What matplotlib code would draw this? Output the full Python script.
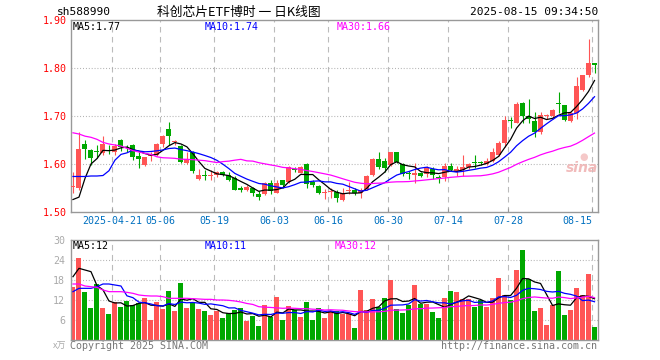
import matplotlib
matplotlib.use("Agg")
import matplotlib.pyplot as plt
import numpy as np
import pandas as pd

# ---------------- data ----------------
opens = [1.553, 1.551, 1.642, 1.629, 1.627, 1.622, 1.630, 1.626, 1.651, 1.636,
         1.640, 1.617, 1.598, 1.617, 1.619, 1.641, 1.673, 1.645, 1.6375, 1.603,
         1.626, 1.569, 1.578, 1.574, 1.577, 1.584, 1.578, 1.571, 1.550, 1.546,
         1.551, 1.538, 1.537, 1.560, 1.540, 1.567, 1.563, 1.590, 1.582, 1.601,
         1.563, 1.554, 1.539, 1.541, 1.542, 1.525, 1.544, 1.546, 1.539, 1.547,
         1.577, 1.610, 1.607, 1.598, 1.626, 1.601, 1.580, 1.578, 1.582, 1.580,
         1.590, 1.573, 1.572, 1.596, 1.586, 1.588, 1.593, 1.603, 1.603, 1.600,
         1.607, 1.619, 1.643, 1.691, 1.686, 1.728, 1.700, 1.689, 1.667, 1.700,
         1.700, 1.727, 1.723, 1.690, 1.706, 1.754, 1.785, 1.810]
highs = [1.584, 1.667, 1.650, 1.631, 1.640, 1.658, 1.640, 1.641, 1.653, 1.640,
         1.642, 1.624, 1.615, 1.624, 1.643, 1.660, 1.687, 1.651, 1.640, 1.624,
         1.628, 1.589, 1.587, 1.587, 1.585, 1.585, 1.584, 1.574, 1.554, 1.556,
         1.553, 1.543, 1.562, 1.567, 1.566, 1.567, 1.595, 1.594, 1.596, 1.602,
         1.567, 1.556, 1.547, 1.549, 1.546, 1.551, 1.563, 1.551, 1.551, 1.577,
         1.612, 1.626, 1.612, 1.626, 1.626, 1.602, 1.585, 1.603, 1.583, 1.595,
         1.593, 1.577, 1.602, 1.603, 1.596, 1.619, 1.603, 1.619, 1.606, 1.612,
         1.633, 1.647, 1.700, 1.697, 1.730, 1.730, 1.735, 1.709, 1.709, 1.704,
         1.714, 1.751, 1.723, 1.709, 1.782, 1.7854, 1.860, 1.810]
lows = [1.540, 1.546, 1.610, 1.598, 1.612, 1.619, 1.620, 1.619, 1.628, 1.625,
        1.608, 1.591, 1.596, 1.607, 1.617, 1.636, 1.640, 1.640, 1.603, 1.601,
        1.582, 1.567, 1.566, 1.566, 1.572, 1.575, 1.565, 1.545, 1.542, 1.544,
        1.534, 1.525, 1.536, 1.538, 1.539, 1.550, 1.560, 1.583, 1.581, 1.551,
        1.553, 1.537, 1.528, 1.530, 1.521, 1.523, 1.537, 1.536, 1.529, 1.546,
        1.575, 1.590, 1.584, 1.596, 1.602, 1.574, 1.568, 1.561, 1.573, 1.573,
        1.568, 1.561, 1.565, 1.586, 1.574, 1.574, 1.590, 1.591, 1.598, 1.598,
        1.605, 1.617, 1.635, 1.676, 1.685, 1.685, 1.685, 1.656, 1.663, 1.693,
        1.693, 1.706, 1.690, 1.688, 1.693, 1.753, 1.782, 1.790]
closes = [1.555, 1.631, 1.631, 1.613, 1.626, 1.641, 1.628, 1.6375, 1.636, 1.634,
          1.615, 1.610, 1.614, 1.619, 1.641, 1.658, 1.658, 1.647, 1.605, 1.611,
          1.586, 1.577, 1.575, 1.577, 1.583, 1.577, 1.567, 1.546, 1.545, 1.553,
          1.539, 1.532, 1.560, 1.543, 1.560, 1.556, 1.594, 1.588, 1.594, 1.558,
          1.556, 1.539, 1.540, 1.542, 1.529, 1.540, 1.546, 1.539, 1.546, 1.575,
          1.610, 1.593, 1.591, 1.624, 1.605, 1.580, 1.579, 1.582, 1.576, 1.593,
          1.578, 1.571, 1.596, 1.588, 1.589, 1.594, 1.601, 1.602, 1.602, 1.607,
          1.625, 1.643, 1.692, 1.689, 1.725, 1.700, 1.693, 1.667, 1.702, 1.701,
          1.7125, 1.725, 1.692, 1.706, 1.7625, 1.785, 1.810, 1.806]
volumes = [16.0, 24.7, 14.5, 9.7, 16.7, 9.7, 7.9, 11.5, 10.0, 11.8,
           10.5, 11.2, 12.6, 6.1, 11.5, 9.3, 14.7, 8.8, 17.2, 9.7,
           11.5, 9.3, 8.8, 7.5, 8.7, 6.6, 8.1, 9.0, 9.6, 5.7,
           7.2, 4.2, 10.5, 6.9, 13.0, 6.0, 10.2, 9.0, 6.9, 11.4,
           6.0, 9.6, 6.6, 8.7, 8.7, 7.7, 7.7, 3.6, 15.0, 9.0,
           12.3, 9.8, 12.6, 18.0, 9.2, 8.1, 10.5, 16.5, 10.8, 10.8,
           8.4, 6.6, 12.6, 14.7, 14.4, 12.2, 12.2, 10.0, 12.0, 10.0,
           12.5, 18.7, 13.5, 12.0, 21.0, 27.0, 18.3, 8.8, 9.7, 4.5,
           10.5, 20.7, 7.5, 9.0, 15.7, 13.5, 19.8, 3.9]

# moving-average values at the start of the window (need data before the window)
ma5_head = [1.526, 1.531, 1.570, 1.600]
ma10_head = [1.574, 1.574, 1.574, 1.575, 1.575, 1.576, 1.586, 1.608, 1.620]
ma30_head = [1.665, 1.6625, 1.658, 1.6556, 1.6514, 1.645, 1.6417, 1.6396, 1.6375, 1.6326,
             1.6278, 1.625, 1.622, 1.620, 1.615, 1.613, 1.6125, 1.6118, 1.610, 1.6097,
             1.609, 1.608, 1.607, 1.605, 1.603, 1.605, 1.606, 1.608, 1.6097]
vma5_head = [19.0, 21.5, 21.0, 20.5]
vma10_head = [14.5, 15.5, 15.5, 15.5, 16.0, 16.8, 16.8, 16.5, 16.2]
vma30_head = [16.8, 16.8, 16.2, 16.0, 15.8, 15.0, 14.5, 14.5, 14.5, 14.3,
              14.0, 13.5, 13.3, 13.2, 13.2, 13.0, 12.5, 12.5, 12.5, 12.5,
              12.4, 12.3, 12.2, 12.2, 12.0, 12.0, 11.9, 11.7, 11.4]

tick_idx = [7, 15, 24, 34, 43, 53, 63, 73, 87]
tick_labels = ["2025-04-21", "05-06", "05-19", "06-03", "06-16", "06-30", "07-14", "07-28", "08-15"]
price_ticks = [1.50, 1.60, 1.70, 1.80, 1.90]
price_tick_labels = ["1.50", "1.60", "1.70", "1.80", "1.90"]
vol_ticks = [6, 12, 18, 24, 30]
vol_tick_labels = ["6", "12", "18", "24", "30"]

code_text = "sh588990"
title_text = "科创芯片ETF博时 一 日K线图"
time_text = "2025-08-15 09:34:50"
price_ma_labels = ["MA5:1.77", "MA10:1.74", "MA30:1.66"]
vol_ma_labels = ["MA5:12", "MA10:11", "MA30:12"]

# ---------------- helpers ----------------
def moving_avg(vals, n, head):
    s = pd.Series(vals, dtype=float).rolling(n).mean().to_numpy()
    s[:n - 1] = head
    return s

RED = "#ff5555"
GREEN = "#00a800"
MONO = "DejaVu Sans Mono"
W, H = 660, 360

def fx(x):
    return x / W

def fy(y):
    return 1 - y / H

o = np.array(opens); h = np.array(highs); l = np.array(lows); c = np.array(closes)
v = np.array(volumes)
n = len(c)
idx = np.arange(n)
up = c >= o
cols = np.where(up, RED, GREEN)
bw = 5 / 6
ctr = idx + bw / 2

fig = plt.figure(figsize=(6.6, 3.6), dpi=100)
fig.patch.set_facecolor("white")

ax = fig.add_axes([fx(70.5), fy(212), 527.5 / W, 192 / H])
ax2 = fig.add_axes([fx(70.5), fy(340), 527.5 / W, 100 / H])

for a in (ax, ax2):
    a.set_xlim(0, n)
    for s in a.spines.values():
        s.set_color("#999999")
        s.set_linewidth(1.0)
    for t in tick_idx:
        a.axvline(t, color="#bbbbbb", lw=0.8, ls=(0, (5, 4)), zorder=0)

ax.set_ylim(1.50, 1.90)
ax2.set_ylim(0, 30)
for yv in price_ticks[1:-1]:
    ax.axhline(yv, color="#aaaaaa", lw=0.8, ls=(0, (0.8, 1.8)), zorder=0)
for yv in vol_ticks[:-1]:
    ax2.axhline(yv, color="#aaaaaa", lw=0.8, ls=(0, (0.8, 1.8)), zorder=0)

# candles
ax.vlines(ctr, l, h, colors=cols, lw=0.8, zorder=2)
body_lo = np.minimum(o, c)
body_h = np.maximum(np.abs(c - o), 0.0021)
ax.bar(idx, body_h, bottom=body_lo, width=bw, align="edge", color=cols, lw=0, zorder=3)

ax.plot(ctr, moving_avg(c, 5, ma5_head), color="black", lw=0.9, zorder=4)
ax.plot(ctr, moving_avg(c, 10, ma10_head), color="#0000ff", lw=0.9, zorder=4)
ax.plot(ctr, moving_avg(c, 30, ma30_head), color="#ff00ff", lw=0.9, zorder=4)

# volume
ax2.bar(idx, v, width=bw, align="edge", color=cols, lw=0, zorder=2)
ax2.plot(ctr, moving_avg(v, 5, vma5_head), color="black", lw=0.9, zorder=4)
ax2.plot(ctr, moving_avg(v, 10, vma10_head), color="#0000ff", lw=0.9, zorder=4)
ax2.plot(ctr, moving_avg(v, 30, vma30_head), color="#ff00ff", lw=0.9, zorder=4)

# ticks
ax.set_yticks(price_ticks)
ax.set_yticklabels(price_tick_labels, color="red", fontfamily=MONO, fontsize=7.2)
ax.tick_params(axis="y", length=0, pad=3)
ax.set_xticks(tick_idx)
ax.set_xticklabels(tick_labels, color="#0070c0", fontfamily=MONO, fontsize=7.2)
ax.tick_params(axis="x", direction="in", length=3, color="#999999", pad=3)
ax.get_xticklabels()[-1].set_ha("right")

ax2.set_yticks(vol_ticks)
ax2.set_yticklabels(vol_tick_labels, color="#aaaaaa", fontfamily=MONO, fontsize=7.2)
ax2.tick_params(axis="y", length=0, pad=4)
ax2.set_xticks(tick_idx)
ax2.set_xticklabels([])
ax2.tick_params(axis="x", length=0)

# header texts
fig.text(fx(57), fy(12), code_text, fontfamily=MONO, fontsize=8.0, va="center", ha="left")
fig.text(fx(239), fy(12.5), title_text, family=["Noto Sans CJK SC", "DejaVu Sans"],
         fontsize=9.2, va="center", ha="center")
fig.text(fx(598), fy(12), time_text, fontfamily=MONO, fontsize=8.0, va="center", ha="right")

ma_cols = ["black", "#0000ff", "#ff00ff"]
for txt, x, col in zip(price_ma_labels, [73, 205, 337], ma_cols):
    fig.text(fx(x), fy(27), txt, color=col, fontfamily=MONO, fontsize=7.2, va="center", ha="left")
for txt, x, col in zip(vol_ma_labels, [73, 205, 335], ma_cols):
    fig.text(fx(x), fy(246), txt, color=col, fontfamily=MONO, fontsize=7.2, va="center", ha="left")

fig.text(fx(66), fy(346), "x万", family=["Noto Sans CJK SC", "DejaVu Sans"], color="#aaaaaa",
         fontsize=6.5, va="center", ha="right", style="italic")
fig.text(fx(70), fy(346), "Copyright 2025 SINA.COM", color="#777777", fontfamily=MONO,
         fontsize=7.2, va="center", ha="left")
fig.text(fx(597), fy(346), "http://finance.sina.com.cn", color="#777777", fontfamily=MONO,
         fontsize=7.2, va="center", ha="right")

# watermark
fig.text(fx(582), fy(168), "sina", color="#f0b4b4", fontsize=10, fontweight="bold",
         style="italic", va="center", ha="center", alpha=0.9)
fig.text(fx(584), fy(157), "●", color="#f5c8c8", fontsize=7, va="center", ha="center")

fig.savefig("out.png", dpi=100, facecolor="white")
